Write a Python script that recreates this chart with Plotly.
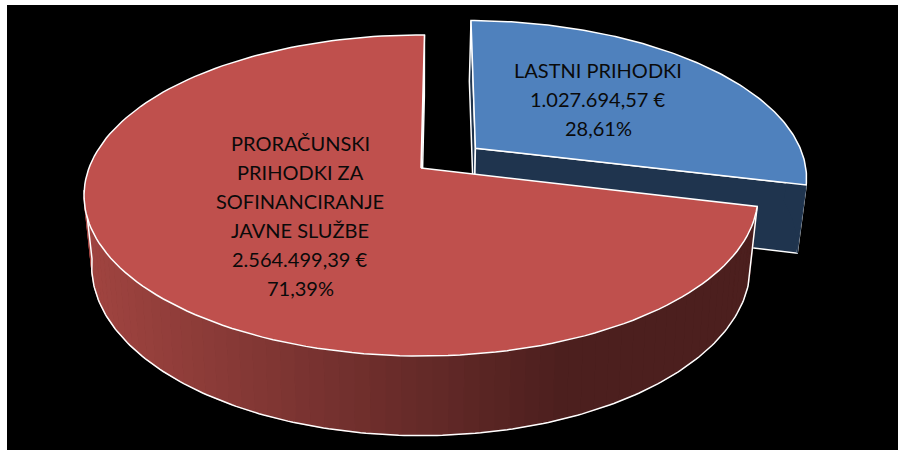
import numpy as np
import plotly.graph_objects as go

categories = ["LASTNI PRIHODKI", "PRORAČUNSKI PRIHODKI ZA SOFINANCIRANJE JAVNE SLUŽBE"]
values = [1027694.57, 2564499.39]
explode = [0.212, 0.0]
colors_top = ["#4F81BD", "#BF504D"]
color_side_blue = "#1F344E"
side_left = (160, 68, 64)
side_right = (76, 31, 30)
label_lines = [
    ["LASTNI PRIHODKI", "1.027.694,57 €", "28,61%"],
    ["PRORAČUNSKI", "PRIHODKI ZA", "SOFINANCIRANJE", "JAVNE SLUŽBE", "2.564.499,39 €", "71,39%"],
]
label_anchor = [(598, 70), (300, 143)]
LINE_STEP = 29

# projection of the pie (pixel axes)
CX, CY, A, B, P, P2, Q, H = 421.0, 168.0, 332.0, 155.8, 0.1713, 0.185, 0.025, 69.0
START = 0.7


def project(theta, level, du=0.0, dv=0.0, r=1.0):
    t = np.radians(theta)
    u = du + r * np.sin(t)
    v = dv + r * np.cos(t)
    if level == 0:
        d = 1 + P * v
        return CX + A * u / d, CY - B * v / d
    d = 1 + P2 * v + Q
    return CX + A * u / d, CY - (B * v - H) / d


total = sum(values)
sweeps = [val / total * 360 for val in values]
b0, b1 = START, START + sweeps[0]
r0, r1 = b1, START + 360
bm = (b0 + b1) / 2
du, dv = explode[0] * np.sin(np.radians(bm)), explode[0] * np.cos(np.radians(bm))

fig = go.Figure()
WHITE = dict(color="white", width=1.5)


def poly(xs, ys, fill, line=None):
    fig.add_trace(go.Scatter(
        x=list(xs), y=list(ys), mode="lines", fill="toself", fillcolor=fill,
        line=line or dict(color=fill, width=1), hoverinfo="skip", showlegend=False))


def wedge(t0, t1, level, ddu=0.0, ddv=0.0):
    th = np.linspace(t0, t1, 150)
    x, y = project(th, level, ddu, ddv)
    ax, ay = project(0.0, level, ddu, ddv, r=0.0)
    return np.r_[ax, x, ax], np.r_[ay, y, ay]


def wall(t0, t1, ddu=0.0, ddv=0.0):
    th = np.linspace(t0, t1, 60)
    xt, yt = project(th, 0, ddu, ddv)
    xb, yb = project(th[::-1], 1, ddu, ddv)
    return np.r_[xt, xb, xt[0]], np.r_[yt, yb, yt[0]]


def radial_face(theta, ddu=0.0, ddv=0.0):
    pts = [project(0.0, 0, ddu, ddv, r=0.0), project(theta, 0, ddu, ddv),
           project(theta, 1, ddu, ddv), project(0.0, 1, ddu, ddv, r=0.0)]
    return [p[0] for p in pts] + [pts[0][0]], [p[1] for p in pts] + [pts[0][1]]


# exploded slice: faces, rim and top
for th in (b0, b1):
    fx, fy = radial_face(th, du, dv)
    poly(fx, fy, color_side_blue, WHITE)
fx, fy = wall(85, b1, du, dv)
poly(fx, fy, color_side_blue)
fx, fy = wedge(b0, b1, 0, du, dv)
poly(fx, fy, colors_top[0], WHITE)

# main slice: inner face, shaded rim, top
fx, fy = radial_face(r1)
poly(fx, fy, "#4C1F1E", WHITE)

edges = np.linspace(r0, 262, 71)
mid_x = [project((a + b) / 2, 1)[0] for a, b in zip(edges[:-1], edges[1:])]
for a, b, mx in zip(edges[:-1], edges[1:], mid_x):
    f = np.clip((mx - 95) / (560 - 95), 0, 1)
    c = [round(side_left[i] + (side_right[i] - side_left[i]) * f) for i in range(3)]
    fx, fy = wall(a, b)
    poly(fx, fy, f"rgb({c[0]},{c[1]},{c[2]})")

# rim outlines
th = np.linspace(r0, 262, 200)
bx, by = project(th, 1)
tx0, ty0 = project(r0, 0)
tx1, ty1 = project(262, 0)
fig.add_trace(go.Scatter(x=np.r_[tx0, bx, tx1], y=np.r_[ty0, by, ty1], mode="lines",
                         line=WHITE, hoverinfo="skip", showlegend=False))
fx, fy = wedge(r0, r1, 0)
poly(fx, fy, colors_top[1], WHITE)

annotations = []
for lines, (ax, ay) in zip(label_lines, label_anchor):
    for i, text in enumerate(lines):
        annotations.append(dict(x=ax, y=ay + i * LINE_STEP, text=text, showarrow=False,
                                xanchor="center", yanchor="middle",
                                font=dict(family="Lato, Carlito, sans-serif", size=20, color="#0a0a0a")))

fig.update_layout(
    width=898, height=450, margin=dict(l=7, r=0, t=5, b=0), autosize=False,
    paper_bgcolor="white", plot_bgcolor="black", showlegend=False, annotations=annotations,
    xaxis=dict(range=[7, 898], visible=False, fixedrange=True),
    yaxis=dict(range=[450, 5], visible=False, fixedrange=True),
)
fig.write_html("out.html", config={"displayModeBar": False},
               post_script="document.body.style.margin='0';")
